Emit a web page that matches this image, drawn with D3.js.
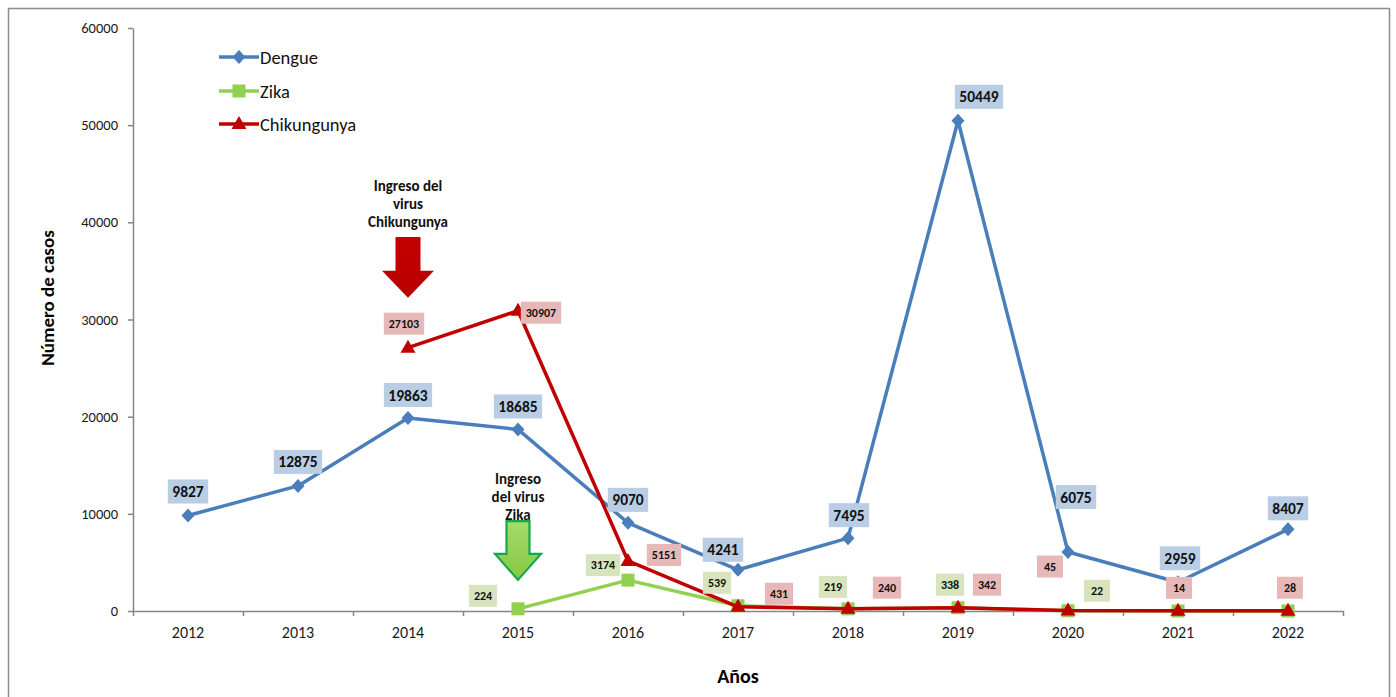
<!DOCTYPE html>
<html lang="es">
<head>
<meta charset="utf-8">
<script src="https://cdn.jsdelivr.net/npm/d3@7"></script>
<style>
  html, body { margin: 0; padding: 0; background: #fff; }
  svg { display: block; font-family: Carlito, Lato, "Open Sans", sans-serif; }
</style>
</head>
<body>
<svg id="chart" width="1396" height="697"></svg>
<script>
// Casos anuales de arbovirosis, 2012–2022
const years = ["2012", "2013", "2014", "2015", "2016", "2017", "2018", "2019", "2020", "2021", "2022"];
const dengue = [9827, 12875, 19863, 18685, 9070, 4241, 7495, 50449, 6075, 2959, 8407];
const zika = [null, null, null, 224, 3174, 539, 219, 338, 22, 0, 0];
const zikaLabels = [null, null, null, "224", "3174", "539", "219", "338", "22", null, null];
const chikungunya = [null, null, 27103, 30907, 5151, 431, 240, 342, 45, 14, 28];
const yTicks = [0, 10000, 20000, 30000, 40000, 50000, 60000];

// Desplazamiento de cada etiqueta respecto a su punto (px)
const dengueLabelOffsets = [[0,-24],[0,-24],[0,-23],[0,-23],[0,-23],[-15,-20],[1,-23],[21,-24],[8,-55],[2,-24],[0,-21]];
const zikaLabelOffsets = [null,null,null,[-35,-13],[-25,-15],[-21,-23],[-15,-22],[-8,-23],[29,-20],null,null];
const chikLabelOffsets = [null,null,[-4,-24],[23,2],[36,-6],[41,-13],[39,-21],[29,-23],[-18,-44],[1,-23],[2,-23]];

const svg = d3.select("#chart");
const plot = { left: 133, right: 1343, top: 28, bottom: 611 };

const x = d3.scaleBand().domain(years).range([plot.left, plot.right]).padding(0);
const xEdge = d3.scaleLinear().domain([0, years.length]).range([plot.left, plot.right]);
const y = d3.scaleLinear().domain([0, 60000]).range([plot.bottom, plot.top]);
const cx = yr => x(yr) + x.bandwidth() / 2;

// Marco exterior
svg.append("rect")
  .attr("x", 8.5).attr("y", 8.5).attr("width", 1381).attr("height", 720)
  .attr("fill", "none").attr("stroke", "#8c8c8c").attr("stroke-width", 1.5);

const axisColor = "#868686";

// Eje Y
const gy = svg.append("g").attr("transform", `translate(${plot.left},0)`)
  .call(d3.axisLeft(y).tickValues(yTicks).tickSize(5).tickSizeOuter(0).tickPadding(10).tickFormat(d3.format("d")));
gy.select(".domain").attr("stroke", axisColor).attr("stroke-width", 1.5);
gy.selectAll(".tick line").attr("stroke", axisColor).attr("stroke-width", 1.5);
gy.selectAll(".tick text").attr("font-size", 14.5).attr("fill", "#1a1a1a").attr("font-family", "Carlito, Lato, sans-serif");

// Eje X: marcas en los límites de categoría
const gxEdge = svg.append("g").attr("transform", `translate(0,${plot.bottom})`)
  .call(d3.axisBottom(xEdge).tickValues(d3.range(years.length + 1)).tickSize(5).tickSizeOuter(0).tickFormat(""));
gxEdge.select(".domain").attr("stroke", axisColor).attr("stroke-width", 1.5);
gxEdge.selectAll(".tick line").attr("stroke", axisColor).attr("stroke-width", 1.5);

const gx = svg.append("g").attr("transform", `translate(0,${plot.bottom})`)
  .call(d3.axisBottom(x).tickSize(0).tickPadding(16));
gx.select(".domain").remove();
gx.selectAll(".tick text").attr("font-size", 16).attr("fill", "#1a1a1a").attr("font-family", "Carlito, Lato, sans-serif");

// Títulos de ejes
svg.append("text")
  .attr("transform", `translate(54,298) rotate(-90)`)
  .attr("text-anchor", "middle").attr("font-weight", "bold").attr("font-size", 19)
  .text("Número de casos");
svg.append("text")
  .attr("x", 738).attr("y", 683)
  .attr("text-anchor", "middle").attr("font-weight", "bold").attr("font-size", 20)
  .text("Años");

// Flechas de ingreso de virus
function blockArrow(g, xc, yTop, yTip, shaftW, headW, headH, fill, stroke) {
  const yHead = yTip - headH;
  const pts = [
    [xc - shaftW / 2, yTop], [xc + shaftW / 2, yTop], [xc + shaftW / 2, yHead],
    [xc + headW / 2, yHead], [xc, yTip], [xc - headW / 2, yHead], [xc - shaftW / 2, yHead]
  ];
  g.append("path").attr("d", d3.line()(pts) + "Z")
    .attr("fill", fill).attr("stroke", stroke || "none").attr("stroke-width", stroke ? 2.2 : 0)
    .attr("stroke-linejoin", "miter");
}

const defs = svg.append("defs");
const gGreen = defs.append("linearGradient").attr("id", "zikaFill").attr("x1", 0).attr("x2", 0).attr("y1", 0).attr("y2", 1);
gGreen.append("stop").attr("offset", "0%").attr("stop-color", "#a6db6a");
gGreen.append("stop").attr("offset", "100%").attr("stop-color", "#86c843");
const gRed = defs.append("linearGradient").attr("id", "chikFill").attr("x1", 0).attr("x2", 0).attr("y1", 0).attr("y2", 1);
gRed.append("stop").attr("offset", "0%").attr("stop-color", "#c40000");
gRed.append("stop").attr("offset", "100%").attr("stop-color", "#b80000");

const ann = svg.append("g");
blockArrow(ann, cx("2014"), y(38500), y(32250), 25, 52, 27, "url(#chikFill)", null);
blockArrow(ann, cx("2015"), y(9250), y(3200), 23, 46, 26, "url(#zikaFill)", "#17a84a");

function noteText(xc, yFirst, lines) {
  const t = ann.append("text").attr("text-anchor", "middle").attr("font-weight", "bold").attr("font-size", 15).attr("fill", "#111");
  lines.forEach((l, i) => t.append("tspan").attr("x", xc).attr("y", yFirst + i * 18).text(l));
}
noteText(cx("2014"), 191, ["Ingreso del", "virus", "Chikungunya"]);
noteText(cx("2015"), 484, ["Ingreso", "del virus", "Zika"]);

// Series
const series = [
  { name: "Dengue", values: dengue, color: "#4a7ebb", marker: "diamond" },
  { name: "Zika", values: zika, color: "#92d050", marker: "square" },
  { name: "Chikungunya", values: chikungunya, color: "#c00000", marker: "triangle" }
];

function drawMarker(g, type, px, py, color) {
  if (type === "diamond") {
    g.append("path").attr("d", `M${px},${py - 7}L${px + 6.5},${py}L${px},${py + 7}L${px - 6.5},${py}Z`).attr("fill", color);
  } else if (type === "square") {
    g.append("rect").attr("x", px - 6.5).attr("y", py - 6.5).attr("width", 13).attr("height", 13).attr("fill", color);
  } else {
    g.append("path").attr("d", `M${px},${py - 8}L${px + 7.5},${py + 5}L${px - 7.5},${py + 5}Z`).attr("fill", color);
  }
}

const line = d3.line()
  .defined(d => d.v != null)
  .x(d => cx(d.year))
  .y(d => y(d.v));

const gSeries = svg.append("g");
series.forEach(s => {
  const pts = years.map((yr, i) => ({ year: yr, v: s.values[i] }));
  const g = gSeries.append("g");
  g.append("path").datum(pts).attr("d", line)
    .attr("fill", "none").attr("stroke", s.color).attr("stroke-width", 3.5).attr("stroke-linejoin", "round");
  pts.filter(d => d.v != null).forEach(d => drawMarker(g, s.marker, cx(d.year), y(d.v), s.color));
});

// Etiquetas de datos
const gLabels = svg.append("g");
function dataLabel(px, py, text, fill, size, minW, h, pad) {
  const g = gLabels.append("g");
  const rect = g.append("rect").attr("fill", fill);
  const t = g.append("text").attr("x", px).attr("y", py).attr("dy", "0.36em")
    .attr("text-anchor", "middle").attr("font-weight", "bold").attr("font-size", size).attr("fill", "#111").text(text);
  const w = Math.max(minW, t.node().getComputedTextLength() + pad);
  rect.attr("x", px - w / 2).attr("y", py - h / 2).attr("width", w).attr("height", h);
}

dengue.forEach((v, i) => {
  const o = dengueLabelOffsets[i];
  dataLabel(cx(years[i]) + o[0], y(v) + o[1], String(v), "#b9cde5", 15.5, 40, 24, 9);
});
zika.forEach((v, i) => {
  if (zikaLabels[i] == null) return;
  const o = zikaLabelOffsets[i];
  dataLabel(cx(years[i]) + o[0], y(v) + o[1], zikaLabels[i], "#d7e4bd", 12, 26, 22, 10);
});
chikungunya.forEach((v, i) => {
  if (v == null) return;
  const o = chikLabelOffsets[i];
  dataLabel(cx(years[i]) + o[0], y(v) + o[1], String(v), "#e6b9b8", 12, 26, 22, 10);
});

// Leyenda
const legend = svg.append("g");
series.forEach((s, i) => {
  const ly = [57, 91, 124][i];
  legend.append("line").attr("x1", 219).attr("x2", 259).attr("y1", ly).attr("y2", ly)
    .attr("stroke", s.color).attr("stroke-width", 3.5);
  drawMarker(legend, s.marker, 239, ly, s.color);
  legend.append("text").attr("x", 260).attr("y", ly).attr("dy", "0.36em")
    .attr("font-size", 18.5).attr("fill", "#111").text(s.name);
});
</script>
</body>
</html>
